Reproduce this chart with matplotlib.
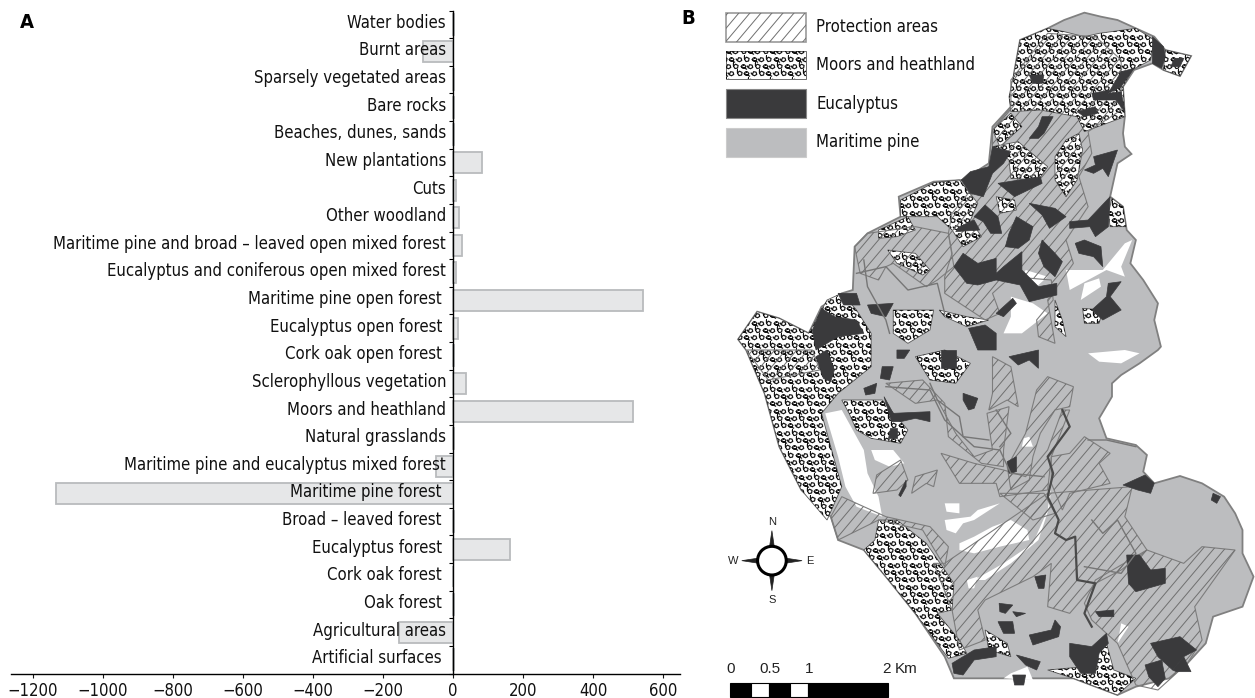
import numpy as np
import matplotlib
matplotlib.use('Agg')
import matplotlib.pyplot as plt
from matplotlib import font_manager as fm
from matplotlib.path import Path
from matplotlib.patches import Polygon, Ellipse, Rectangle
from matplotlib.collections import LineCollection

# Panel A data (top to bottom)
categories = ['Water bodies', 'Burnt areas', 'Sparsely vegetated areas', 'Bare rocks',
              'Beaches, dunes, sands', 'New plantations', 'Cuts', 'Other woodland',
              'Maritime pine and broad – leaved open mixed forest',
              'Eucalyptus and coniferous open mixed forest', 'Maritime pine open forest',
              'Eucalyptus open forest', 'Cork oak open forest', 'Sclerophyllous vegetation',
              'Moors and heathland', 'Natural grasslands',
              'Maritime pine and eucalyptus mixed forest', 'Maritime pine forest',
              'Broad – leaved forest', 'Eucalyptus forest', 'Cork oak forest', 'Oak forest',
              'Agricultural areas', 'Artificial surfaces']
values = [2, -85, 2, 3, 2, 83, 8, 17, 26, 8, 543, 13, 3, 38, 513, 3, -48, -1135, 4, 163, 1, 4, -155, 2]
label_shift = [0, 0, 0, 0, 0, 0, 0, 0, 0, 0, -4, -4, -4, 0, 0, 0, 0, -4, -4, -4, -4, -4, 0, -4]
xticks = [-1200, -1000, -800, -600, -400, -200, 0, 200, 400, 600]

# Panel B shapes (x, y in a 1564 x 2094 grid over the panel)
outline = [(1045, 60), (1100, 38), (1145, 50), (1190, 60), (1240, 85), (1290, 110), (1320, 150), (1390, 168),
           (1360, 228), (1315, 210), (1285, 190), (1235, 210), (1205, 260), (1210, 350), (1205, 400), (1210, 440),
           (1228, 462), (1190, 490), (1170, 590), (1205, 620), (1215, 690), (1240, 720), (1225, 790), (1260, 840),
           (1300, 910), (1290, 960), (1308, 1040), (1300, 1050), (1250, 1090), (1200, 1125), (1175, 1150),
           (1175, 1190), (1140, 1255), (1160, 1315), (1240, 1335), (1270, 1365), (1260, 1415), (1290, 1450),
           (1360, 1428), (1420, 1450), (1480, 1490), (1510, 1540), (1530, 1590), (1530, 1660), (1560, 1730),
           (1530, 1820), (1450, 1850), (1430, 1930), (1380, 1990), (1330, 2035), (1240, 2060), (1190, 2085),
           (1130, 2060), (1070, 2035), (900, 2035), (745, 2035), (720, 1970), (640, 1840), (560, 1730), (500, 1650),
           (430, 1620), (410, 1550), (330, 1470), (270, 1340), (230, 1180), (180, 1050), (158, 1018), (210, 935),
           (270, 955), (350, 1000), (385, 920), (440, 880), (470, 870), (475, 740), (510, 700), (600, 650),
           (595, 590), (690, 545), (770, 540), (840, 490), (850, 380), (900, 320), (910, 210), (925, 120),
           (1000, 85)]

white_gaps = [
    [(395, 1240), (440, 1230), (470, 1290), (500, 1350), (510, 1420), (540, 1490), (550, 1550), (480, 1520), (450, 1460), (430, 1370)],
    [(520, 1350), (580, 1350), (610, 1390), (570, 1400), (530, 1380)],
    [(760, 1630), (800, 1610), (850, 1580), (900, 1560), (945, 1590), (950, 1620), (870, 1640), (800, 1660), (760, 1650)],
    [(720, 1560), (790, 1550), (810, 1530), (870, 1510), (800, 1560), (770, 1570), (750, 1600), (725, 1590)],
    [(720, 1510), (760, 1510), (760, 1540), (725, 1535)],
    [(800, 1740), (880, 1690), (960, 1630), (1000, 1530), (1010, 1450), (1005, 1520), (975, 1620), (900, 1690), (830, 1740)],
    [(1100, 850), (1140, 835), (1145, 860), (1090, 900)],
    [(940, 810), (1000, 830), (970, 860), (930, 840)],
    [(900, 890), (960, 910), (1000, 940), (930, 1000), (880, 1000), (900, 950)],
    [(1210, 730), (1230, 720), (1200, 800), (1210, 830), (1160, 810), (1060, 870), (1050, 810), (1150, 810)],
    [(1110, 1060), (1210, 1050), (1250, 1060), (1200, 1090), (1140, 1085)],
    [(930, 1340), (960, 1340), (950, 1310), (935, 1315)],
    [(780, 1740), (810, 1730), (800, 1765), (785, 1765)],
    [(880, 2035), (960, 2040), (945, 2000), (900, 2020)],
    [(1200, 1870), (1220, 1880), (1190, 1930)],
]

moors = [
    [(925, 120), (1000, 85), (1045, 95), (1100, 110), (1140, 100), (1240, 85), (1290, 120), (1280, 180), (1230, 210), (1205, 260), (1210, 350), (1100, 395), (1080, 350), (980, 330), (900, 335), (895, 290), (910, 210)],
    [(1320, 150), (1390, 168), (1360, 228), (1315, 210)],
    [(850, 390), (900, 340), (930, 380), (870, 440)],
    [(850, 440), (920, 425), (1000, 500), (975, 540), (900, 535), (895, 480)],
    [(1050, 420), (1085, 400), (1095, 450), (1080, 540), (1050, 590), (1020, 540), (1020, 470)],
    [(600, 600), (690, 548), (760, 540), (810, 610), (790, 660), (820, 710), (770, 740), (740, 690), (700, 650), (660, 650), (600, 650)],
    [(540, 690), (620, 650), (640, 690), (590, 710), (540, 715)],
    [(565, 750), (640, 760), (680, 810), (660, 825), (590, 790)],
    [(860, 590), (910, 600), (915, 630), (870, 640)],
    [(1175, 595), (1205, 620), (1213, 680), (1170, 680), (1165, 640)],
    [(1095, 925), (1150, 930), (1140, 970), (1100, 970)],
    [(158, 1018), (210, 935), (270, 955), (350, 1000), (400, 900), (440, 880), (480, 930), (520, 1000), (520, 1100), (430, 1180), (385, 1240), (410, 1340), (440, 1460), (400, 1560), (330, 1470), (270, 1340), (230, 1180), (180, 1050)],
    [(440, 1200), (550, 1200), (620, 1290), (600, 1330), (520, 1315), (480, 1290), (460, 1240)],
    [(640, 1070), (720, 1050), (790, 1090), (750, 1150), (680, 1140)],
    [(580, 930), (690, 930), (680, 990), (620, 1030), (580, 1000)],
    [(705, 930), (780, 950), (840, 960), (780, 980), (720, 950)],
    [(540, 1560), (590, 1560), (670, 1630), (745, 1750), (740, 1830), (700, 1840), (760, 1920), (780, 1960), (730, 1975), (640, 1840), (560, 1730), (500, 1650), (530, 1620)],
    [(1000, 2010), (1100, 2000), (1160, 1930), (1180, 2010), (1240, 2035), (1190, 2085), (1130, 2060), (1070, 2035)],
    [(830, 1890), (890, 1930), (900, 1970), (840, 1950)],
    [(1020, 900), (1040, 960), (1050, 1010), (1020, 980)],
]

eucalyptus = [
    [(950, 225), (990, 225), (985, 250), (960, 250)],
    [(1200, 215), (1235, 205), (1200, 260), (1165, 280), (1200, 275), (1210, 335), (1185, 300), (1125, 300), (1120, 280), (1170, 270)],
    [(1285, 110), (1315, 140), (1320, 170), (1310, 205), (1285, 190)],
    [(1345, 175), (1370, 175), (1360, 200), (1335, 200)],
    [(985, 350), (1015, 350), (990, 400), (975, 415), (950, 415), (975, 380)],
    [(1080, 335), (1130, 320), (1135, 340), (1100, 350)],
    [(850, 440), (900, 455), (880, 490), (850, 520), (825, 590), (790, 580), (765, 540), (790, 515), (840, 500)],
    [(865, 550), (980, 530), (985, 550), (910, 590)],
    [(1125, 470), (1190, 450), (1165, 530), (1150, 505), (1125, 520), (1100, 510), (1130, 495)],
    [(950, 610), (1020, 625), (1050, 650), (1005, 685), (985, 645)],
    [(1060, 665), (1110, 660), (1170, 590), (1165, 680), (1130, 710), (1115, 680), (1060, 685)],
    [(830, 615), (865, 650), (875, 700), (845, 700), (825, 665), (800, 650)],
    [(760, 680), (800, 660), (815, 690), (750, 695)],
    [(915, 650), (960, 680), (950, 720), (920, 745), (885, 740), (895, 700)],
    [(985, 720), (1020, 760), (1040, 785), (1020, 830), (990, 800), (975, 760)],
    [(1075, 730), (1100, 720), (1145, 740), (1150, 800), (1125, 770), (1085, 760)],
    [(770, 760), (810, 790), (860, 775), (860, 820), (880, 800), (930, 755), (930, 810), (975, 860), (1025, 850), (1025, 885), (950, 905), (925, 855), (860, 840), (810, 855), (780, 850), (745, 800)],
    [(1165, 850), (1200, 845), (1170, 890), (1200, 930), (1150, 960), (1120, 930), (1160, 890)],
    [(785, 985), (830, 975), (860, 1000), (860, 1050), (810, 1050)],
    [(860, 940), (905, 895), (915, 910), (880, 950)],
    [(360, 990), (385, 925), (420, 950), (480, 960), (500, 1000), (430, 1010), (400, 1030), (370, 1050)],
    [(430, 880), (480, 880), (490, 915), (445, 915)],
    [(510, 915), (580, 910), (560, 950), (520, 940)],
    [(370, 1070), (400, 1050), (420, 1110), (410, 1145), (390, 1135)],
    [(550, 1100), (580, 1100), (570, 1140), (545, 1135)],
    [(500, 1165), (535, 1150), (530, 1180), (505, 1185)],
    [(555, 1190), (580, 1240), (680, 1235), (680, 1265), (640, 1255), (600, 1265), (575, 1265)],
    [(570, 1285), (590, 1285), (590, 1315), (565, 1315)],
    [(590, 1050), (625, 1050), (610, 1075), (590, 1075)],
    [(710, 1050), (750, 1050), (750, 1105), (710, 1105)],
    [(895, 1070), (975, 1050), (975, 1105), (950, 1080), (920, 1095)],
    [(770, 1180), (810, 1195), (800, 1225), (785, 1230), (770, 1200)],
    [(890, 1385), (915, 1370), (915, 1415), (895, 1420)],
    [(595, 1485), (615, 1440), (615, 1460), (600, 1490)],
    [(1205, 1455), (1265, 1425), (1290, 1450), (1280, 1480), (1245, 1470)],
    [(1450, 1480), (1470, 1490), (1460, 1510), (1445, 1500)],
    [(1215, 1665), (1250, 1665), (1280, 1710), (1320, 1705), (1320, 1750), (1240, 1775), (1220, 1750)],
    [(965, 1730), (995, 1725), (990, 1765), (975, 1765)],
    [(868, 1810), (905, 1815), (885, 1840), (870, 1835)],
    [(905, 1835), (940, 1840), (915, 1850)],
    [(865, 1865), (905, 1865), (910, 1900), (880, 1900)],
    [(1130, 1835), (1180, 1830), (1180, 1850), (1140, 1850)],
    [(950, 1905), (1010, 1890), (1020, 1860), (1035, 1880), (1030, 1910), (960, 1935)],
    [(915, 1965), (980, 1985), (970, 2010), (940, 1995)],
    [(905, 2025), (940, 2025), (935, 2055), (910, 2055)],
    [(740, 1990), (800, 1950), (860, 1940), (860, 1970), (800, 1980), (770, 2025), (745, 2020)],
    [(1060, 1930), (1120, 1940), (1160, 1900), (1165, 1930), (1140, 1960), (1130, 2020), (1090, 2020), (1060, 1970)],
    [(1280, 1930), (1360, 1910), (1405, 1950), (1370, 1970), (1340, 2010), (1300, 1970)],
    [(1265, 1995), (1310, 1980), (1320, 2035), (1300, 2060), (1275, 2030)],
    [(1340, 2010), (1370, 1970), (1390, 2015), (1350, 2015)],
]

protection = [
    [(1000, 100), (1130, 110), (1200, 180), (1200, 330), (1110, 395), (1120, 460), (1085, 530), (1110, 620), (1050, 720), (1070, 790), (1000, 900), (1020, 1030), (975, 1010), (970, 960), (1015, 900), (1010, 840), (900, 830), (850, 880), (870, 940), (830, 960), (720, 880), (720, 830), (740, 760), (730, 700), (740, 640), (850, 490), (850, 390), (900, 320), (900, 240)],
    [(475, 740), (510, 700), (640, 680), (730, 700), (745, 800), (700, 840), (670, 860), (580, 790), (560, 800), (540, 840), (490, 820)],
    [(180, 1050), (360, 1050), (380, 1110), (240, 1140)],
    [(560, 1150), (660, 1140), (720, 1210), (730, 1310), (820, 1390), (880, 1400), (880, 1350), (895, 1220), (835, 1240), (850, 1350), (800, 1370), (750, 1300), (700, 1200), (640, 1210)],
    [(850, 1070), (900, 1100), (920, 1220), (890, 1200), (840, 1230), (850, 1180)],
    [(970, 1170), (1000, 1130), (1070, 1160), (1060, 1220), (1020, 1230), (980, 1300), (960, 1370), (950, 1440), (900, 1470), (890, 1400), (940, 1300)],
    [(1010, 1370), (1060, 1360), (1100, 1310), (1170, 1360), (1140, 1390), (1170, 1450), (1060, 1480), (1040, 1530), (1010, 1450)],
    [(720, 1690), (1000, 1480), (1230, 1460), (1210, 1550), (1270, 1650), (1200, 1710), (1130, 1750), (1060, 1840), (1000, 1820), (1010, 1690), (960, 1730), (830, 1800), (810, 1830), (830, 1920), (760, 1950), (740, 1830), (690, 1690)],
    [(1130, 1740), (1270, 1650), (1370, 1690), (1420, 1640), (1510, 1650), (1400, 1820), (1420, 1920), (1380, 1990), (1300, 2070), (1240, 2055), (1190, 1930), (1120, 1860), (1100, 1810)],
    [(410, 1550), (440, 1490), (560, 1550), (680, 1580), (730, 1640), (720, 1700), (660, 1590), (540, 1560), (430, 1620)],
    [(710, 1360), (800, 1390), (880, 1410), (940, 1430), (1000, 1350), (1040, 1230), (1060, 1230), (1010, 1370), (1000, 1470), (870, 1490), (860, 1450), (760, 1450)],
    [(870, 1480), (990, 1480), (1020, 1540), (960, 1560)],
    [(525, 1480), (535, 1425), (600, 1380), (620, 1440), (590, 1470)],
    [(630, 1480), (640, 1430), (700, 1410), (690, 1460), (670, 1450)],
]

river = [(1040, 1230), (1060, 1280), (1000, 1370), (1015, 1420), (1000, 1490), (1030, 1560), (1020, 1600), (1050, 1620),
         (1075, 1610), (1080, 1740), (1130, 1750), (1100, 1840), (1120, 1880)]
tracks = [
    [(480, 820), (560, 800), (620, 870), (700, 850), (720, 940)],
    [(500, 780), (510, 860), (560, 960), (570, 1000)],
    [(560, 1160), (680, 1170), (720, 1260), (800, 1340), (870, 1350), (900, 1420), (990, 1430)],
    [(680, 1150), (700, 1200), (760, 1250), (770, 1310), (840, 1320)],
    [(860, 1230), (900, 1300), (870, 1340)],
    [(1110, 1320), (1160, 1320), (1240, 1340)],
    [(1120, 1560), (1150, 1600), (1190, 1560), (1240, 1660), (1200, 1720), (1100, 1700)],
]

scale_edges = [137, 193, 243, 300, 348, 565]
scale_fills = ['k', 'w', 'k', 'w', 'k']
scale_labels = [(139, '0'), (245, '0.5'), (350, '1'), (562, '2')]

# the original uses a condensed face, take one if it is installed
narrow = [f.name for f in fm.fontManager.ttflist
          if 'Condensed' in f.name or 'Narrow' in f.name or f.stretch in ('condensed', 'semi-condensed')]
label_font = {'family': narrow[0] if narrow else 'Liberation Sans'}
if any(f.stretch == 'condensed' for f in fm.fontManager.ttflist):
    label_font['stretch'] = 'condensed'

W, H = 1255, 698
fig = plt.figure(figsize=(W / 100, H / 100), dpi=100)

# size the labels so the longest one has the reference width (393 px)
probe = fig.text(0, 0, categories[8], fontsize=13, **label_font)
probe_w = probe.get_window_extent(fig.canvas.get_renderer()).width
probe.remove()
FS = 13 * 393 / probe_w

# ----- panel A -----
ax = fig.add_axes([11 / W, 1 - 673.5 / H, 669 / W, 663 / H])
px_per_unit = 0.35
ax.set_xlim((11 - 453) / px_per_unit, (680 - 453) / px_per_unit)
ax.set_ylim(len(categories) - 0.5, -0.5)
y = np.arange(len(categories))
ax.barh(y, values, height=0.76, color='#e6e7e8', edgecolor='#b9bbbd', linewidth=1.3, zorder=2)
for sp in ['top', 'right']:
    ax.spines[sp].set_visible(False)
ax.spines['left'].set_position(('data', 0))
ax.spines['left'].set_linewidth(1.0)
ax.spines['left'].set_zorder(3)
ax.spines['bottom'].set_linewidth(1.0)
ax.set_xticks(xticks)
ax.set_xticklabels([str(t).replace('-', '\u2212') for t in xticks], fontsize=FS, **label_font)
ax.tick_params(axis='x', length=3, width=0.8, pad=3, colors='#111111')
ax.set_yticks(np.arange(len(categories) + 1) - 0.5)
ax.set_yticklabels([])
ax.tick_params(axis='y', length=3, width=0.8)
for i, (name, shift) in enumerate(zip(categories, label_shift)):
    ax.annotate(name, (0, i), xytext=(-7 + shift, 1.5), textcoords='offset pixels', ha='right', va='center',
                fontsize=FS, color='#111111', zorder=5, **label_font)
fig.text(20 / W, 1 - 22 / H, 'A', fontsize=14.5, fontweight='bold', va='center', **label_font)
fig.text(681 / W, 1 - 19 / H, 'B', fontsize=14.5, fontweight='bold', va='center', **label_font)

# ----- panel B -----
m = fig.add_axes([680 / W, 0, 575 / W, 1])
m.set_xlim(0, 1564)
m.set_ylim(2094, 0)
m.axis('off')

PINE = '#bcbdbf'
DARK = '#3a3a3c'
EDGE = '#7d7d7d'

# a simple diagonal hatch and a loop pattern, both clipped to each shape
xs = np.arange(-1800, 2000, 30)
hatch_segs = [[(x0, 2094), (x0 + 1600, 0)] for x0 in xs]
gx, gy = np.meshgrid(np.arange(0, 1564, 20), np.arange(0, 2094, 22))
gx = gx + (np.arange(gx.shape[0])[:, None] % 2) * 10
idx = (np.arange(gx.shape[1])[None, :] + 2 * np.arange(gx.shape[0])[:, None]) % 3
loops = [
    Path([(-1, -.5), (0, -1), (1, -.4), (.7, .6), (-.4, .8), (-1, -.5), (-1.6, .4)], [1, 2, 2, 2, 2, 2, 2]),
    Path([(-.8, .2), (-.2, -.8), (.8, -.6), (1, .4), (0, .9), (-.8, .2), (-.8, 1.4)], [1, 2, 2, 2, 2, 2, 2]),
    Path([(-1, 0), (-.4, -.7), (.6, -.7), (1, 0), (.4, .7), (-.4, .7), (-1, 0), (1.5, -1.2)], [1, 2, 2, 2, 2, 2, 2, 2]),
]


def add_moor(poly):
    patch = Polygon(poly, closed=True, fc='white', ec='#555555', lw=0.6, zorder=3)
    m.add_patch(patch)
    xmin, ymin = np.min(poly, axis=0)
    xmax, ymax = np.max(poly, axis=0)
    keep = (gx >= xmin - 20) & (gx <= xmax + 20) & (gy >= ymin - 20) & (gy <= ymax + 20)
    for k, mk in enumerate(loops):
        sel = keep & (idx == k)
        ln, = m.plot(gx[sel], gy[sel], ls='none', marker=mk, ms=5.2, mfc='none', mec='#111111', mew=0.85, zorder=4)
        ln.set_clip_path(patch)


def add_hatch(poly, edge=EDGE, lw=0.8):
    patch = Polygon(poly, closed=True, fc='none', ec=edge, lw=lw, zorder=5)
    m.add_patch(patch)
    lc = LineCollection(hatch_segs, colors='#6f6f6f', linewidths=0.7, zorder=5)
    m.add_collection(lc)
    lc.set_clip_path(patch)


m.add_patch(Polygon(outline, closed=True, fc=PINE, ec='#808080', lw=1.3, zorder=1))
for p in white_gaps:
    m.add_patch(Polygon(p, closed=True, fc='white', ec='none', zorder=2))
for p in moors:
    add_moor(p)
for p in protection:
    add_hatch(p)
for p in eucalyptus:
    m.add_patch(Polygon(p, closed=True, fc=DARK, ec=DARK, lw=0.5, zorder=6))
for t in tracks:
    m.plot(*zip(*t), color='#767676', lw=1.0, zorder=6)
m.plot(*zip(*river), color='#4a4a4a', lw=1.6, zorder=7)

# legend boxes
add_hatch([(125, 40), (343, 40), (343, 125), (125, 125)], edge='#999999', lw=1.2)
add_moor([(125, 153), (343, 153), (343, 238), (125, 238)])
m.add_patch(Rectangle((125, 268), 218, 85, fc=DARK, ec='#888888', lw=0.8))
m.add_patch(Rectangle((125, 383), 218, 87, fc=PINE, ec='#cccccc', lw=0.8))
for ty, name in zip([85, 200, 317, 430], ['Protection areas', 'Moors and heathland', 'Eucalyptus', 'Maritime pine']):
    m.text(370, ty - 4, name, fontsize=FS, va='center', ha='left', color='#111111', **label_font)

# north arrow
cx, cy = 250, 1682
for tip, side in [((0, -90), (12, 0)), ((0, 90), (12, 0)), ((-82, 0), (0, 14)), ((82, 0), (0, 14))]:
    m.add_patch(Polygon([(cx + tip[0], cy + tip[1]), (cx + side[0], cy + side[1]), (cx - side[0], cy - side[1])],
                        closed=True, fc='#222222', ec='#222222', lw=0.5, zorder=8))
m.add_patch(Ellipse((cx, cy), 78, 86, fc='white', ec='black', lw=2.2, zorder=9))
for (dx, dy, s) in [(0, -117, 'N'), (0, 118, 'S'), (-105, 0, 'W'), (102, 0, 'E')]:
    m.text(cx + dx, cy + dy, s, fontsize=8, family='Liberation Sans', ha='center', va='center', color='#222222')

# scale bar
for x0, x1, c in zip(scale_edges[:-1], scale_edges[1:], scale_fills):
    m.add_patch(Rectangle((x0, 2050), x1 - x0, 40, fc=c, ec='black', lw=0.8, zorder=8))
for x0, s in scale_labels:
    m.text(x0, 2008, s, fontsize=11, family='Liberation Sans', ha='center', va='center', color='#222222')
m.text(585, 2008, 'Km', fontsize=11, family='Liberation Sans', ha='left', va='center', color='#222222')

fig.savefig('out.png', dpi=100)
